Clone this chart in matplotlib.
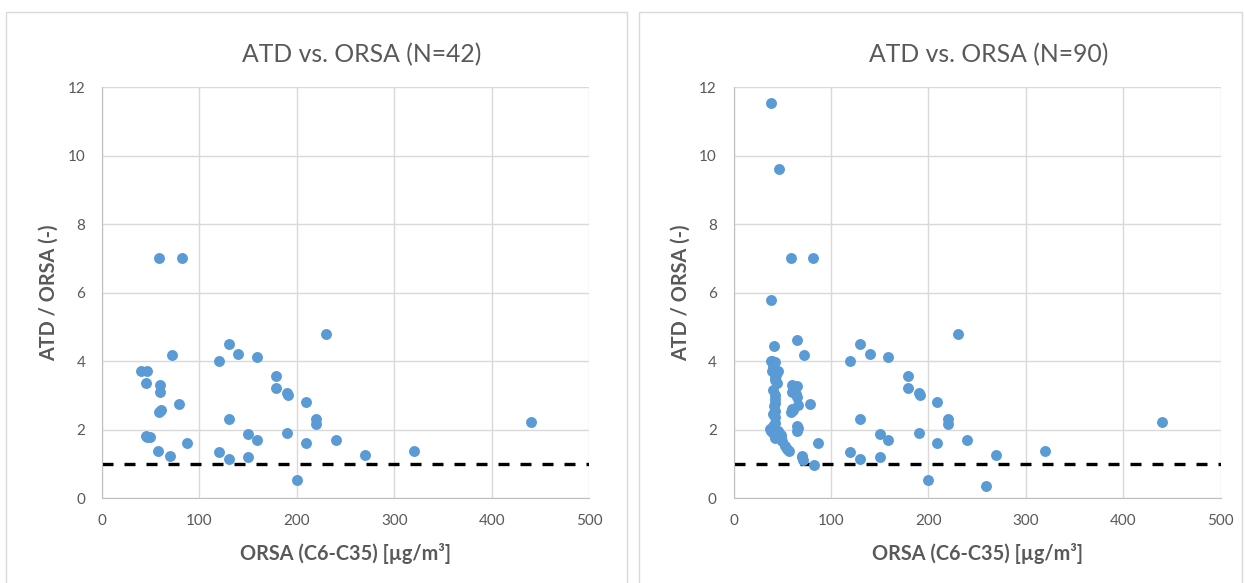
import matplotlib
matplotlib.use("Agg")
import matplotlib.pyplot as plt
from matplotlib.patches import Rectangle

plt.rcParams['font.family'] = ['Lato', 'DejaVu Sans']

# ORSA (x) and ATD/ORSA (y), set with N=42
orsa_42 = [59, 82, 72, 40, 46, 45, 60, 60, 79, 59, 61, 45, 49, 46, 57, 70, 87,
           120, 130, 140, 159, 130, 120, 130, 150, 159, 150,
           179, 179, 190, 191, 209, 220, 220, 230, 190, 209, 240, 270, 200,
           320, 440]
ratio_42 = [7.0, 7.0, 4.18, 3.7, 3.7, 3.35, 3.3, 3.1, 2.76, 2.53, 2.58, 1.83, 1.78, 1.8, 1.39, 1.24, 1.6,
            4.0, 4.49, 4.22, 4.13, 2.31, 1.34, 1.15, 1.87, 1.69, 1.2,
            3.56, 3.21, 3.07, 3.02, 2.8, 2.31, 2.18, 4.8, 1.91, 1.6, 1.69, 1.25, 0.53,
            1.38, 2.22]

# extra samples in the N=90 set
orsa_extra = [39, 47, 39, 42, 65.5, 38.5, 42.6, 42.6, 65.5, 65.5, 42.3, 42.3, 42.3, 66.5,
              42.3, 65.5, 65.5, 37.5, 41.9, 40.8, 44.9, 48.3, 44.9, 52.9, 71.7, 83, 259,
              41, 43, 41, 43, 42, 41, 43, 41, 39, 46, 43, 50, 55, 62, 64, 60, 66, 70,
              40, 44, 47]
ratio_extra = [11.52, 9.61, 5.78, 4.45, 4.63, 4.01, 3.99, 3.53, 3.29, 2.97, 3.02, 2.78, 2.56, 2.71,
               2.36, 2.12, 1.95, 2.02, 2.02, 1.9, 1.85, 1.85, 1.79, 1.53, 1.12, 0.98, 0.37,
               3.85, 3.45, 3.15, 2.9, 2.68, 2.45, 2.2, 2.1, 1.95, 1.95, 1.75, 1.68, 1.45,
               3.2, 3.05, 2.6, 2.05, 1.2, 4.0, 3.6, 1.9]

orsa_90 = orsa_42 + orsa_extra
ratio_90 = ratio_42 + ratio_extra

xticks = [0, 100, 200, 300, 400, 500]
yticks = [0, 2, 4, 6, 8, 10, 12]

blue = '#5B9BD5'
grey_text = '#595959'
grid_col = '#D9D9D9'

W, H = 1245, 583
fig = plt.figure(figsize=(W / 100, H / 100), dpi=100)

# chart borders
for x0, x1 in [(6, 627), (639, 1242)]:
    fig.patches.append(Rectangle((x0 / W, -0.05), (x1 - x0) / W, (H - 12) / H + 0.05,
                                 transform=fig.transFigure, fill=False,
                                 edgecolor=grid_col, linewidth=1))


def panel(left_px, xs, ys, title, title_x):
    ax = fig.add_axes([left_px / W, (H - 498.3) / H, 487 / W, 411.3 / H])
    ax.scatter(xs, ys, s=62, color=blue, zorder=3, linewidths=0)
    ax.axhline(1, color='black', linewidth=2.4, dashes=(3.3, 3.3), zorder=2)
    ax.set_xlim(0, 500)
    ax.set_ylim(0, 12)
    ax.set_xticks(xticks)
    ax.set_yticks(yticks)
    ax.grid(True, color=grid_col, linewidth=1)
    ax.set_axisbelow(True)
    for side in ['top', 'right']:
        ax.spines[side].set_visible(False)
    for side in ['left', 'bottom']:
        ax.spines[side].set_color('#BFBFBF')
    ax.tick_params(length=0, labelsize=11, labelcolor=grey_text)
    ax.tick_params(axis='y', pad=12)
    ax.tick_params(axis='x', pad=11)
    ax.set_title(title, fontsize=17.8, color=grey_text, pad=18, x=title_x)
    ax.set_xlabel('ORSA (C6-C35) [µg/m³]', fontsize=14.3, fontweight='bold',
                  color=grey_text, labelpad=11)
    ax.set_ylabel('ATD / ORSA (-)', fontsize=14.3, fontweight='bold',
                  color=grey_text, labelpad=6)
    return ax


panel(102, orsa_42, ratio_42, 'ATD vs. ORSA (N=42)', 0.533)
panel(733.5, orsa_90, ratio_90, 'ATD vs. ORSA (N=90)', 0.524)

fig.savefig('out.png', dpi=100)
